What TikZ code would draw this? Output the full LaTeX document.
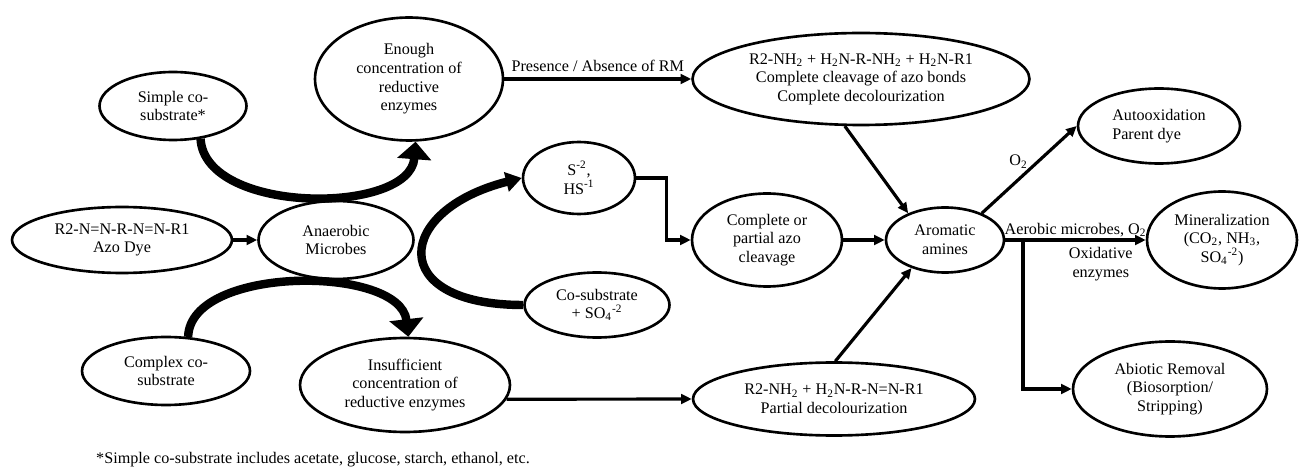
\documentclass[tikz,border=0pt]{standalone}
\usepackage{fontspec}
\setmainfont{Liberation Serif}
\usetikzlibrary{shapes.geometric,arrows.meta}

\begin{document}
\begin{tikzpicture}[x=0.02cm,y=-0.02cm,
  every node/.style={font=\fontsize{9.2}{10.6}\selectfont},
  oval/.style={ellipse,draw,line width=1.5pt,inner sep=0pt,align=center},
  arr/.style={line width=1.8pt,-{Triangle[length=6pt,width=5.5pt]}},
  fatarr/.style={line width=4.8pt,-{Triangle[length=10pt,width=19pt]}}]
\useasboundingbox(0,0)rectangle(1299,476);
\node[oval,minimum width=2.94cm,minimum height=1.36cm](simple)at(173,106){Simple co-\\substrate*};
\node[oval,minimum width=3.76cm,minimum height=2.46cm](enough)at(409,79){Enough\\concentration of\\reductive\\enzymes};
\node[oval,minimum width=6.74cm,minimum height=1.84cm](comp)at(861,79){R2-NH\textsubscript{2} + H\textsubscript{2}N-R-NH\textsubscript{2} + H\textsubscript{2}N-R1\\Complete cleavage of azo bonds\\Complete decolourization};
\node[oval,minimum width=4.40cm,minimum height=1.32cm](azo)at(122,240){R2-N=N-R-N=N-R1\\Azo Dye};
\node[oval,minimum width=3.10cm,minimum height=1.56cm](anaer)at(336,240){Anaerobic\\Microbes};
\node[oval,minimum width=2.24cm,minimum height=1.44cm](sul)at(579,178){S\textsuperscript{-2},\\HS\textsuperscript{-1}};
\node[oval,minimum width=3.00cm,minimum height=1.86cm](cleav)at(767,240){Complete or\\partial azo\\cleavage};
\node[oval,minimum width=2.36cm,minimum height=1.30cm](arom)at(945,240){Aromatic\\amines};
\node[oval,minimum width=3.24cm,minimum height=1.50cm,align=left](auto)at(1159,126){Autooxidation\\Parent dye};
\node[oval,minimum width=3.00cm,minimum height=1.94cm](mineral)at(1222,240){Mineralization\\(CO\textsubscript{2}, NH\textsubscript{3},\\SO\textsubscript{4}\textsuperscript{-2})};
\node[oval,minimum width=3.88cm,minimum height=1.90cm](abio)at(1170,389){Abiotic Removal\\(Biosorption/\\Stripping)};
\node[oval,minimum width=2.90cm,minimum height=1.30cm](cosub)at(597,305){Co-substrate\\+ SO\textsubscript{4}\textsuperscript{-2}};
\node[oval,minimum width=3.36cm,minimum height=1.36cm](complex)at(166,371){Complex co-\\substrate};
\node[oval,minimum width=4.20cm,minimum height=1.88cm](insuf)at(405,385){Insufficient\\concentration of\\reductive enzymes};
\node[oval,minimum width=5.64cm,minimum height=1.46cm](partial)at(834,399){R2-NH\textsubscript{2} + H\textsubscript{2}N-R-N=N-R1\\Partial decolourization};
\node[anchor=west](note)at(90,460){*Simple co-substrate includes acetate, glucose, starch, ethanol, etc.};
\draw[fatarr](simple.-50)..controls(205,215)and(410,215)..(enough.-84);
\draw[fatarr,-{Triangle[length=9pt,width=11pt]}](cosub.west)..controls(385,305)and(395,210)..(sul.west);
\draw[fatarr](complex.57)..controls(190,265)and(400,265)..(insuf.86);
\draw[arr](enough.east)--node[above]{Presence / Absence of RM}(comp.west);
\draw[arr](azo)--(anaer);
\draw[arr](sul.east)--++(30,0)|-(cleav.west);
\draw[arr](cleav)--(arom);
\draw[arr](comp.-109)--(arom.144);
\draw[arr](partial.88)--(arom.-140);
\draw[arr](insuf.-8)--(partial.west);
\draw[arr](arom.36)--node[above left,inner sep=0pt]{O\textsubscript{2}}(auto.west);
\draw[arr](arom)--node[above,inner sep=1pt]{Aerobic microbes, O\textsubscript{2}}node[below,pos=0.68,align=center]{Oxidative\\enzymes}(mineral);
\coordinate(split)at(1023,240);
\draw[arr](split)|-(abio.west);
\end{tikzpicture}
\end{document}
